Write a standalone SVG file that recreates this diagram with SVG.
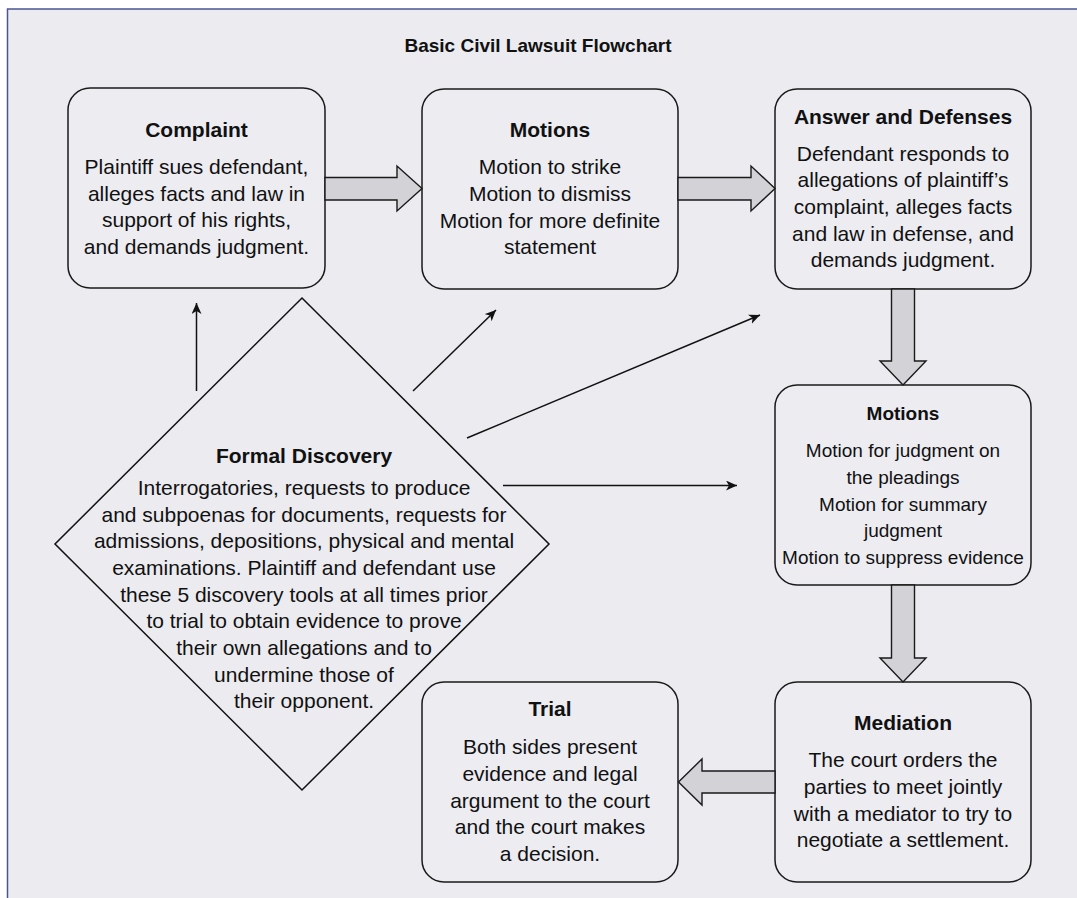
<svg xmlns="http://www.w3.org/2000/svg" width="1077" height="898" viewBox="0 0 1077 898">
<style>
.box{fill:#ECECF1;stroke:#1a1a1a;stroke-width:1.5}
.blk{fill:#D3D3D7;stroke:#1a1a1a;stroke-width:1.4;stroke-linejoin:miter}
.ln{stroke:#111;stroke-width:1.5;fill:none}
text{font-family:"Liberation Sans",Arial,Helvetica,sans-serif;fill:#111;text-anchor:middle}
.t{font-weight:bold;font-size:21px}
.b{font-size:21px}
.s{font-size:19px}
.st{font-weight:bold;font-size:19px}
</style>
<defs>
<marker id="ah" markerWidth="12" markerHeight="10" refX="11" refY="5" orient="auto" markerUnits="userSpaceOnUse">
<path d="M0,0 L11,5 L0,10 L3,5 Z" fill="#111"/>
</marker>
</defs>
<rect x="0" y="0" width="1077" height="898" fill="#ffffff"/>
<rect x="7.5" y="9" width="1100" height="900" fill="#EBEBF0" stroke="#4B5590" stroke-width="1.5"/>
<text class="t" x="538" y="52" style="font-size:19px">Basic Civil Lawsuit Flowchart</text>

<g id="complaint">
<rect class="box" x="68" y="88" width="257" height="200" rx="22"/>
<text class="t" x="196.5" y="137">Complaint</text>
<text class="b" x="196.5" y="174">Plaintiff sues defendant,</text>
<text class="b" x="196.5" y="200.7">alleges facts and law in</text>
<text class="b" x="196.5" y="227.3">support of his rights,</text>
<text class="b" x="196.5" y="254">and demands judgment.</text>
</g>

<g id="motions1">
<rect class="box" x="422" y="89" width="256" height="200" rx="22"/>
<text class="t" x="550" y="137.3">Motions</text>
<text class="b" x="550" y="174.3">Motion to strike</text>
<text class="b" x="550" y="201">Motion to dismiss</text>
<text class="b" x="550" y="227.7">Motion for more definite</text>
<text class="b" x="550" y="254.3">statement</text>
</g>

<g id="answer">
<rect class="box" x="775" y="89" width="256" height="200" rx="22"/>
<text class="t" x="903" y="124">Answer and Defenses</text>
<text class="b" x="903" y="160.7">Defendant responds to</text>
<text class="b" x="903" y="187.3">allegations of plaintiff’s</text>
<text class="b" x="903" y="214">complaint, alleges facts</text>
<text class="b" x="903" y="240.7">and law in defense, and</text>
<text class="b" x="903" y="267.3">demands judgment.</text>
</g>

<g id="motions2">
<rect class="box" x="775" y="385" width="256" height="200" rx="22"/>
<text class="st" x="903" y="420">Motions</text>
<text class="s" x="903" y="457.3">Motion for judgment on</text>
<text class="s" x="903" y="484">the pleadings</text>
<text class="s" x="903" y="510.7">Motion for summary</text>
<text class="s" x="903" y="537.3">judgment</text>
<text class="s" x="903" y="564">Motion to suppress evidence</text>
</g>

<g id="mediation">
<rect class="box" x="775" y="682" width="256" height="200" rx="22"/>
<text class="t" x="903" y="730">Mediation</text>
<text class="b" x="903" y="767.3">The court orders the</text>
<text class="b" x="903" y="794">parties to meet jointly</text>
<text class="b" x="903" y="820.7">with a mediator to try to</text>
<text class="b" x="903" y="847.3">negotiate a settlement.</text>
</g>

<g id="trial">
<rect class="box" x="422" y="682" width="256" height="200" rx="22"/>
<text class="t" x="550" y="716">Trial</text>
<text class="b" x="550" y="754.3">Both sides present</text>
<text class="b" x="550" y="781">evidence and legal</text>
<text class="b" x="550" y="807.7">argument to the court</text>
<text class="b" x="550" y="834.3">and the court makes</text>
<text class="b" x="550" y="861">a decision.</text>
</g>

<g id="discovery">
<polygon points="302,298 549,544 302,790 55,544" fill="none" stroke="#111" stroke-width="1.5"/>
<text class="t" x="304" y="463">Formal Discovery</text>
<text class="b" x="304" y="495">Interrogatories, requests to produce</text>
<text class="b" x="304" y="521.7">and subpoenas for documents, requests for</text>
<text class="b" x="304" y="548.3">admissions, depositions, physical and mental</text>
<text class="b" x="304" y="575">examinations. Plaintiff and defendant use</text>
<text class="b" x="304" y="601.7">these 5 discovery tools at all times prior</text>
<text class="b" x="304" y="628.3">to trial to obtain evidence to prove</text>
<text class="b" x="304" y="655">their own allegations and to</text>
<text class="b" x="304" y="681.7">undermine those of</text>
<text class="b" x="304" y="708.3">their opponent.</text>
</g>

<g id="connectors">
<path class="blk" d="M325,177.5 L397,177.5 L397,166 L422,188.5 L397,211 L397,200 L325,200 Z"/>
<path class="blk" d="M678,177.5 L751,177.5 L751,166 L775,188.5 L751,211 L751,200 L678,200 Z"/>
<path class="blk" d="M891.5,289 L891.5,361 L880,361 L903,385 L926,361 L914.5,361 L914.5,289 Z"/>
<path class="blk" d="M891.5,585 L891.5,658 L880,658 L903,682 L926,658 L914.5,658 L914.5,585 Z"/>
<path class="blk" d="M775,771 L702,771 L702,759 L678.5,782 L702,805 L702,793 L775,793 Z"/>
<line class="ln" x1="196.5" y1="391" x2="196.5" y2="303" marker-end="url(#ah)"/>
<line class="ln" x1="413" y1="391" x2="496" y2="310" marker-end="url(#ah)"/>
<line class="ln" x1="467" y1="438" x2="760" y2="315" marker-end="url(#ah)"/>
<line class="ln" x1="503" y1="485.5" x2="737" y2="485.5" marker-end="url(#ah)"/>
</g>
</svg>
